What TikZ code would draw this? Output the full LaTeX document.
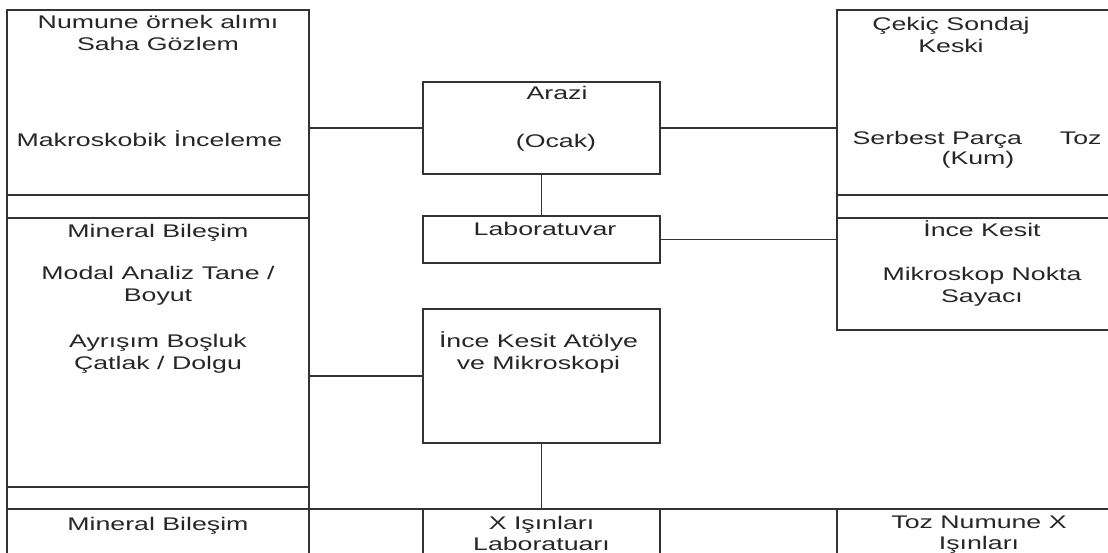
\documentclass[tikz,border=0pt]{standalone}
\usepackage{fontspec}
\setmainfont{Liberation Sans}[FakeStretch=1.46]
\usetikzlibrary{positioning}

\begin{document}
\begin{tikzpicture}[
   x=1pt, y=1pt,
   line width=1.2pt, draw=black!80,
   box/.style={draw, rectangle, inner sep=0pt, outer sep=0pt},
   txt/.style={inner sep=0pt, align=center, text=black!85,
               font=\fontsize{18.3}{21.5}\selectfont},
   lcol/.style={box, minimum width=302pt},
   mcol/.style={box, minimum width=237pt},
   rcol/.style={box, minimum width=290pt}]

\useasboundingbox (0,0) rectangle (1108,552);
\clip (0,0) rectangle (1108,552);

\node[lcol, minimum height=185pt] (L1) at (158,449.5) {};
\node[lcol, minimum height=269pt, below=23pt of L1] (L2) {};
\node[lcol, minimum height=61pt, below=22pt of L2] (L3) {};

\node[mcol, minimum height=92pt] (M1) at (541.5,424) {};
\node[mcol, minimum height=47pt, below=42pt of M1] (M2) {};
\node[mcol, minimum height=134pt, below=46pt of M2] (M3) {};
\node[mcol, minimum height=61pt, below=66pt of M3] (B3) {};

\node[rcol, minimum height=185pt] (R1) at (982,449.5) {};
\node[rcol, minimum height=112pt, below=23pt of R1] (R2) {};
\node[rcol, minimum height=61pt, below=179pt of R2] (B5) {};

\draw (L1.south west) rectangle (L2.north east);
\draw (L2.south west) rectangle (L3.north east);
\draw (R1.south west) rectangle (R2.north east);
\draw (L3.north east) -- (B3.north west) (B3.north east) -- (B5.north west);

\draw (M1.west) -- (M1.west -| L1.east);
\draw (M1.east) -- (M1.east -| R1.west);
\draw (M1.south) -- (M2.north);
\draw (M2.east) -- (M2.east -| R2.west);
\draw (M3.west) -- (M3.west -| L2.east);
\draw (M3.south) -- (B3.north);

% base of a two-line node sits on its last line
\node[txt, anchor=base] (tL1a) at ([yshift=-40.5pt]L1.north) {Numune örnek alımı\\Saha Gözlem};
\node[txt, anchor=base west] (tL1b) at ([xshift=9pt,yshift=-137pt]L1.north west) {Makroskobik İnceleme};
\node[txt, anchor=base] (tL2a) at ([yshift=-20pt]L2.north) {Mineral Bileşim};
\node[txt, anchor=base] (tL2b) at ([yshift=-83.5pt]L2.north) {Modal Analiz Tane /\\Boyut};
\node[txt, anchor=base] (tL2c) at ([yshift=-151.5pt]L2.north) {Ayrışım Boşluk\\Çatlak / Dolgu};
\node[txt, anchor=base] (tL3) at ([yshift=-21pt]L3.north) {Mineral Bileşim};

\node[txt, anchor=base] (tM1a) at ([xshift=15.5pt,yshift=-18pt]M1.north) {Arazi};
\node[txt, anchor=base] (tM1b) at ([xshift=14.5pt,yshift=-66pt]M1.north) {(Ocak)};
\node[txt, anchor=base] (tM2) at ([xshift=3.5pt,yshift=-20pt]M2.north) {Laboratuvar};
\node[txt, anchor=base] (tM3) at ([xshift=-3pt,yshift=-60.5pt]M3.north) {İnce Kesit Atölye\\ve Mikroskopi};
\node[txt, anchor=base] (tB3) at ([yshift=-41.5pt]B3.north) {X Işınları\\Laboratuarı};

\node[txt, anchor=base] (tR1a) at ([xshift=-31pt,yshift=-42.5pt]R1.north) {Çekiç Sondaj\\Keski};
\node[txt, anchor=base west] (tR1b) at ([xshift=15pt,yshift=-135pt]R1.north west) {Serbest Parça\hspace{38pt}Toz};
\node[txt, anchor=base] (tR1c) at ([xshift=-4pt,yshift=-155pt]R1.north) {(Kum)};
\node[txt, anchor=base] (tR2a) at ([yshift=-19pt]R2.north) {İnce Kesit};
\node[txt, anchor=base] (tR2b) at ([yshift=-84.5pt]R2.north) {Mikroskop Nokta\\Sayacı};
\node[txt, anchor=base] (tB5) at ([xshift=-3pt,yshift=-40.5pt]B5.north) {Toz Numune X\\Işınları};

\end{tikzpicture}
\end{document}
